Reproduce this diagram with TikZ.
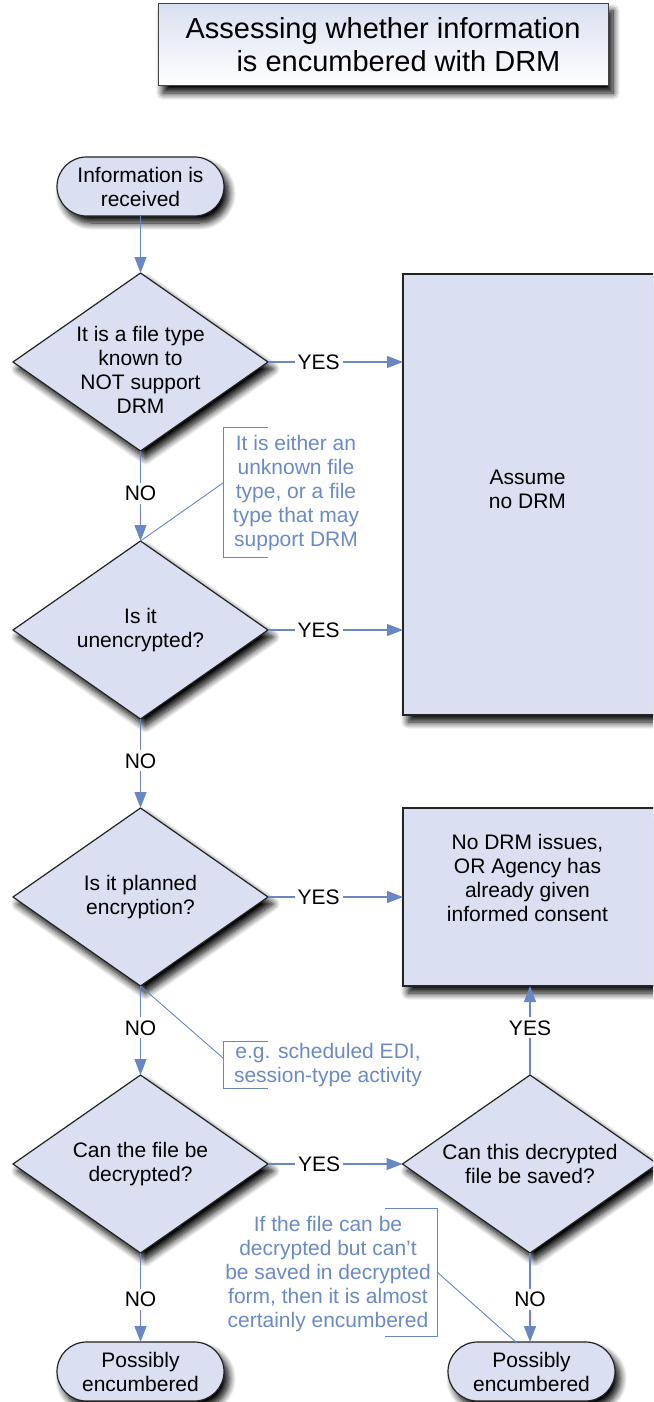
\documentclass[tikz,border=0pt]{standalone}
\usepackage{fontspec}
\setmainfont{Liberation Sans}
\usetikzlibrary{shapes.geometric,shapes.misc,arrows.meta,shadows.blur,calc}
\definecolor{fillc}{RGB}{218,224,241}
\definecolor{linec}{RGB}{104,135,196}
\definecolor{notec}{RGB}{106,138,200}
\definecolor{edgec}{RGB}{35,35,35}
\begin{document}
\begin{tikzpicture}[x=1pt,y=-1pt,
  shadowed/.style={blur shadow={shadow xshift=5pt,shadow yshift=-7pt,shadow blur radius=7pt,shadow blur steps=10,shadow opacity=100}},
  body/.style={font=\fontsize{21}{24}\selectfont},
  dia/.style={diamond,draw=edgec,line width=1.2pt,fill=fillc,minimum width=255pt,minimum height=178pt,inner sep=0pt,outer sep=0pt,shadowed},
  term/.style={rounded rectangle,draw=edgec,line width=1.2pt,fill=fillc,minimum width=167pt,minimum height=59pt,inner sep=0pt,outer sep=0pt,align=center,body,shadowed},
  boxn/.style={rectangle,draw=edgec,line width=1.2pt,fill=fillc,inner sep=0pt,outer sep=0pt,shadowed},
  txt/.style={align=center,body,inner sep=0pt},
  note/.style={align=center,body,text=notec,inner sep=0pt},
  conn/.style={draw=linec,line width=1.2pt},
  callout/.style={draw=linec,line width=0.9pt},
  arr/.style={conn,-{Triangle[length=16pt,width=12pt]}},
  lbl/.style={fill=white,inner sep=3pt,body,text=black},
]
\useasboundingbox (0,0) rectangle (653,1402);
\clip (0,0) rectangle (653,1402);

% title
\node[rectangle,draw=edgec!85,line width=1pt,top color=fillc,bottom color=white,
  minimum width=450pt,minimum height=82pt,inner sep=0pt,shadowed,align=center,
  font=\fontsize{29}{33}\selectfont] (title) at (383,45)
  {Assessing whether information\\\hspace*{31pt}is encumbered with DRM};

% shapes
\node[term] (t1) at (140.5,186.5) {Information is\\received};
\node[dia] (d1) at (140.5,362) {};
\node[txt] (d1t) at ($(d1.center)+(0,8)$) {It is a file type\\known to\\NOT support\\DRM};
\node[dia] (d2) at (140.5,630) {};
\node[txt] (d2t) at (d2.center) {Is it\\unencrypted?};
\node[dia] (d3) at (140.5,897) {};
\node[txt] (d3t) at (d3.center) {Is it planned\\encryption?};
\node[dia] (d4) at (140.5,1164) {};
\node[txt] (d4t) at (d4.center) {Can the file be\\decrypted?};
\node[dia] (d5) at (530,1164) {};
\node[txt] (d5t) at (d5.center) {Can this decrypted\\file be saved?};
\node[boxn,minimum width=253pt,minimum height=441pt] (b1) at (529.5,494.5) {};
\node[txt] (b1t) at ($(b1.center)+(-2,-5)$) {Assume\\no DRM};
\node[boxn,minimum width=253pt,minimum height=178pt] (b2) at (529.5,897) {};
\node[txt] (b2t) at ($(b2.center)+(-2,-19)$) {No DRM issues,\\OR Agency has\\already given\\informed consent};
\node[term] (t2) at (140.5,1371.5) {Possibly\\encumbered};
\node[term] (t3) at (531.5,1371.5) {Possibly\\encumbered};

% connectors
\draw[arr] (t1.south) -- (d1.north);
\draw[arr] (d1.south) -- node[lbl,pos=0.47]{NO} (d2.north);
\draw[arr] (d1.east) -- node[lbl,pos=0.375]{YES} (d1.east -| b1.west);
\draw[arr] (d2.east) -- node[lbl,pos=0.375]{YES} (d2.east -| b1.west);
\draw[arr] (d2.south) -- node[lbl,pos=0.47]{NO} (d3.north);
\draw[arr] (d3.east) -- node[lbl,pos=0.375]{YES} (d3.east -| b2.west);
\draw[arr] (d3.south) -- node[lbl,pos=0.47]{NO} (d4.north);
\draw[arr] (d4.east) -- node[lbl,pos=0.38]{YES} (d5.west);
\draw[arr] (d4.south) -- node[lbl,pos=0.52]{NO} (t2.north);
\draw[arr] (d5.north) -- node[lbl,pos=0.53]{YES} (d5.north |- b2.south);
\draw[arr] (d5.south) -- node[lbl,pos=0.52]{NO} (d5.south |- t3.north);

% callouts
\draw[callout] (268,427) -- (223,427) -- (223,557) -- (268,557);
\coordinate (c1) at (223,483);
\draw[callout] (c1) -- (d2.north);
\node[note] (n1) at (296,493.5) {It is either an\\unknown file\\type, or a file\\type that may\\support DRM};

\draw[callout] (268,1041) -- (223,1041) -- (223,1088) -- (268,1088);
\coordinate (c2) at (223,1058);
\draw[callout] (d3.south) -- (c2);
\node[note] (n2) at (328,1065) {e.g. scheduled EDI,\\session-type activity};

\draw[callout] (385,1208) -- (437,1208) -- (437,1336) -- (385,1336);
\coordinate (c3) at (437,1272);
\coordinate (c3e) at (517,1343);
\draw[callout] (c3) -- (c3e);
\node[note] (n3) at (328,1274) {If the file can be\\decrypted but can’t\\be saved in decrypted\\form, then it is almost\\certainly encumbered};
\end{tikzpicture}
\end{document}
